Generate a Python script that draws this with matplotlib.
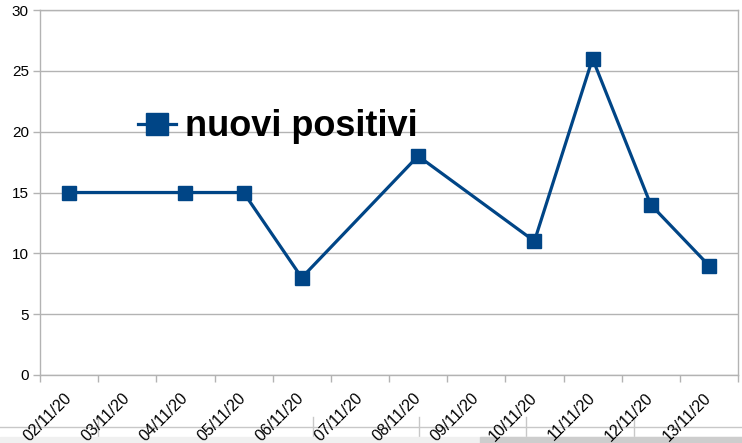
import matplotlib
matplotlib.use("Agg")
import matplotlib.pyplot as plt
from matplotlib.lines import Line2D
from matplotlib.patches import Rectangle

categories = ["02/11/20", "03/11/20", "04/11/20", "05/11/20", "06/11/20", "07/11/20",
              "08/11/20", "09/11/20", "10/11/20", "11/11/20", "12/11/20", "13/11/20"]
point_dates = ["02/11/20", "04/11/20", "05/11/20", "06/11/20", "08/11/20",
               "10/11/20", "11/11/20", "12/11/20", "13/11/20"]
nuovi_positivi = [15, 15, 15, 8, 18, 11, 26, 14, 9]
y_ticks = [0, 5, 10, 15, 20, 25, 30]
series_name = "nuovi positivi"

plt.rcParams['font.family'] = ['Liberation Sans', 'DejaVu Sans']
color = "#004586"
grid_c = "#b3b3b3"

W, H = 742, 443
fig = plt.figure(figsize=(W / 100, H / 100), dpi=100)

# background spreadsheet artifacts
fig.add_artist(Line2D([0, 1], [1 - 427 / H] * 2, color="#c8c8c8", lw=1, transform=fig.transFigure, zorder=0))
for xv in [98, 313, 419, 526, 634]:
    fig.add_artist(Line2D([xv / W] * 2, [1 - 417 / H, 1 - 437 / H], color="#c8c8c8", lw=1,
                          transform=fig.transFigure, zorder=0))
fig.add_artist(Rectangle((0, 0), 1, 6 / H, transform=fig.transFigure, color="#f0f0f0", zorder=0))
fig.add_artist(Rectangle((480 / W, 0), 1, 6 / H, transform=fig.transFigure, color="#cdcdcd", zorder=0))

ax = fig.add_axes([40 / W, 1 - 375 / H, (738 - 40) / W, (375 - 10) / H])
ax.set_facecolor("none")

idx = {c: i for i, c in enumerate(categories)}
xs = [idx[d] for d in point_dates]
ax.plot(xs, nuovi_positivi, color=color, lw=2.3, marker="s", markersize=9.8,
        markeredgecolor=color, markerfacecolor=color, zorder=3, clip_on=False)

ax.set_xlim(-0.5, len(categories) - 0.5)
ax.set_ylim(0, 30)
ax.set_yticks(y_ticks)
ax.set_yticklabels([str(v) for v in y_ticks], fontsize=11)
ax.yaxis.grid(True, color=grid_c, lw=1)
ax.set_axisbelow(True)

ax.set_xticks([i - 0.5 for i in range(len(categories) + 1)], minor=False)
ax.set_xticklabels([])
ax.set_xticks(range(len(categories)), minor=True)
ax.set_xticklabels(categories, minor=True, rotation=45, ha="right", va="center",
                   rotation_mode="anchor", fontsize=11.5)
ax.tick_params(axis="x", which="minor", length=0, pad=15)
ax.tick_params(axis="x", which="major", length=5, color=grid_c, width=1)
ax.tick_params(axis="y", length=5, color=grid_c, width=1, pad=3)
for s in ax.spines.values():
    s.set_color(grid_c)
    s.set_linewidth(1)

# legend inside plot
ax.legend([Line2D([], [], color=color, lw=2.3, marker="s", markersize=15.5)], [series_name],
          loc="center left", bbox_to_anchor=((138 - 40) / 698, 1 - (127 - 10) / 365),
          frameon=False, prop={"size": 26, "weight": "bold"}, handlelength=1.05,
          handletextpad=0.25, borderpad=0, borderaxespad=0)

fig.savefig("out.png", dpi=100)
